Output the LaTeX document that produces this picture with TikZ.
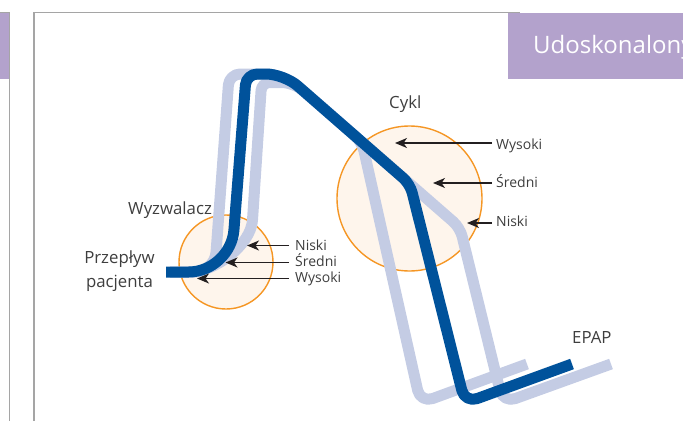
\documentclass[tikz,border=0pt]{standalone}
\usepackage{fontspec}
\setmainfont{Open Sans}
\usetikzlibrary{arrows.meta,calc}
\definecolor{tubeblue}{RGB}{0,82,155}
\definecolor{tubelight}{RGB}{196,204,228}
\definecolor{ringorange}{RGB}{245,150,36}
\definecolor{ringfill}{RGB}{254,245,236}
\definecolor{headpurple}{RGB}{179,162,204}
\definecolor{framegray}{RGB}{165,165,165}
\definecolor{txtgray}{RGB}{62,62,62}
\definecolor{arrowblack}{RGB}{35,31,32}
\newcommand\tubecorner[4]{-- ($(#2)!#4!(#1)$) .. controls ($(#2)!0.45*#4!(#1)$) and ($(#2)!0.45*#4!(#3)$) .. ($(#2)!#4!(#3)$)}
\begin{document}
\begin{tikzpicture}[x=1pt,y=-1pt,
  tube/.style={line width=11pt, line join=round},
  bluetube/.style={tube, draw=tubeblue},
  lighttube/.style={tube, draw=tubelight},
  ring/.style={circle, draw=ringorange, fill=ringfill, line width=1.4pt, inner sep=0pt},
  bigtxt/.style={text=txtgray, inner sep=0pt, font=\fontsize{16.8}{20}\selectfont},
  smalltxt/.style={text=txtgray, inner sep=0pt, font=\fontsize{14}{17}\selectfont},
  arr/.style={draw=arrowblack, line width=1.4pt, -{Stealth[length=12pt,width=10pt,inset=3.5pt]}},
  frameline/.style={draw=framegray, line width=1.2pt}]
\useasboundingbox (0,0) rectangle (683,421);
% frames and headers
\fill[headpurple] (0,12.5) rectangle (9.5,79);
\draw[frameline] (0,12.5) -- (9.7,12.5) -- (9.7,421);
\draw[frameline] (34,421) -- (34,12.5) -- (520,12.5);
\fill[headpurple] (508,12.5) rectangle (683,79);
\node[anchor=base west, inner sep=0pt, text=white, font=\fontsize{24}{28}\selectfont] (hdr) at (533,53.5) {Udoskonalony};
% rings
\node[ring, minimum size=94pt] (trg) at (226,262) {};
\node[ring, minimum size=145pt] (cyc) at (409.5,198.5) {};
% coordinates of tubes
\coordinate (B0) at (166,272);
\coordinate (B1) at (230.6,272);
\coordinate (B2) at (246.3,74);
\coordinate (B3) at (284,74);
\coordinate (B4) at (410,184);
\coordinate (B5) at (465,403);
\coordinate (B6) at (572,364);
\coordinate (L0) at (170,272);
\coordinate (L1) at (214.6,272);
\coordinate (L2) at (229.2,74);
\coordinate (L3) at (284,74);
\coordinate (L4) at (362,142);
\coordinate (L5) at (420.5,403);
\coordinate (L6) at (527,364);
\coordinate (R0) at (170,272);
\coordinate (RP) at (252.5,220);
\coordinate (R2) at (261.6,82.5);
\coordinate (R3) at (293.7,82.5);
\coordinate (R4) at (460,227.6);
\coordinate (R5) at (503,403);
\coordinate (R6) at (611,364);
% light tubes
\draw[lighttube] (L0) \tubecorner{L0}{L1}{L2}{20pt} \tubecorner{L1}{L2}{L3}{11pt} \tubecorner{L2}{L3}{L4}{18pt} \tubecorner{L3}{L4}{L5}{9pt} \tubecorner{L4}{L5}{L6}{13pt} -- (L6);
\draw[lighttube] (R0) -- (190,272) .. controls (215,272) and (250.9,245) .. (RP) \tubecorner{RP}{R2}{R3}{8pt} \tubecorner{R2}{R3}{R4}{12pt} \tubecorner{R3}{R4}{R5}{9pt} \tubecorner{R4}{R5}{R6}{13pt} -- (R6);
% blue tube
\draw[bluetube] (B0) \tubecorner{B0}{B1}{B2}{42pt} \tubecorner{B1}{B2}{B3}{11pt} \tubecorner{B2}{B3}{B4}{18pt} \tubecorner{B3}{B4}{B5}{9pt} \tubecorner{B4}{B5}{B6}{13pt} -- (B6);
% big labels
\node[bigtxt, anchor=base west] (wyz) at (128,214) {Wyzwalacz};
\node[bigtxt, anchor=base] (prz) at (119.5,263) {Przepływ};
\node[bigtxt, anchor=base] (pac) at (119.5,287) {pacjenta};
\node[bigtxt, anchor=base west] (cykl) at (389,108.5) {Cykl};
\node[bigtxt, anchor=base west] (epap) at (572,343) {EPAP};
% cycle labels
\node[smalltxt, anchor=base west] (cw) at (496,149) {Wysoki};
\node[smalltxt, anchor=base west] (cs) at (496,187) {Średni};
\node[smalltxt, anchor=base west] (cn) at (496,226) {Niski};
\coordinate (cwt) at (395,143);
\coordinate (cst) at (433,183);
\coordinate (cnt) at (467,223);
\draw[arr] ([xshift=-4pt]cw.west |- cwt) -- (cwt);
\draw[arr] ([xshift=-4pt]cs.west |- cst) -- (cst);
\draw[arr] ([xshift=-4pt]cn.west |- cnt) -- (cnt);
% trigger labels
\node[smalltxt, anchor=base west] (tn) at (295,250.5) {Niski};
\node[smalltxt, anchor=base west] (ts) at (295,266.5) {Średni};
\node[smalltxt, anchor=base west] (tw) at (295,282.5) {Wysoki};
\coordinate (tnt) at (247,245.5);
\coordinate (tst) at (225.5,262.5);
\coordinate (twt) at (197,278.5);
\draw[arr] ([xshift=-6pt]tn.west |- tnt) -- (tnt);
\draw[arr] ([xshift=-6pt]ts.west |- tst) -- (tst);
\draw[arr] ([xshift=-6pt]tw.west |- twt) -- (twt);
\end{tikzpicture}
\end{document}
